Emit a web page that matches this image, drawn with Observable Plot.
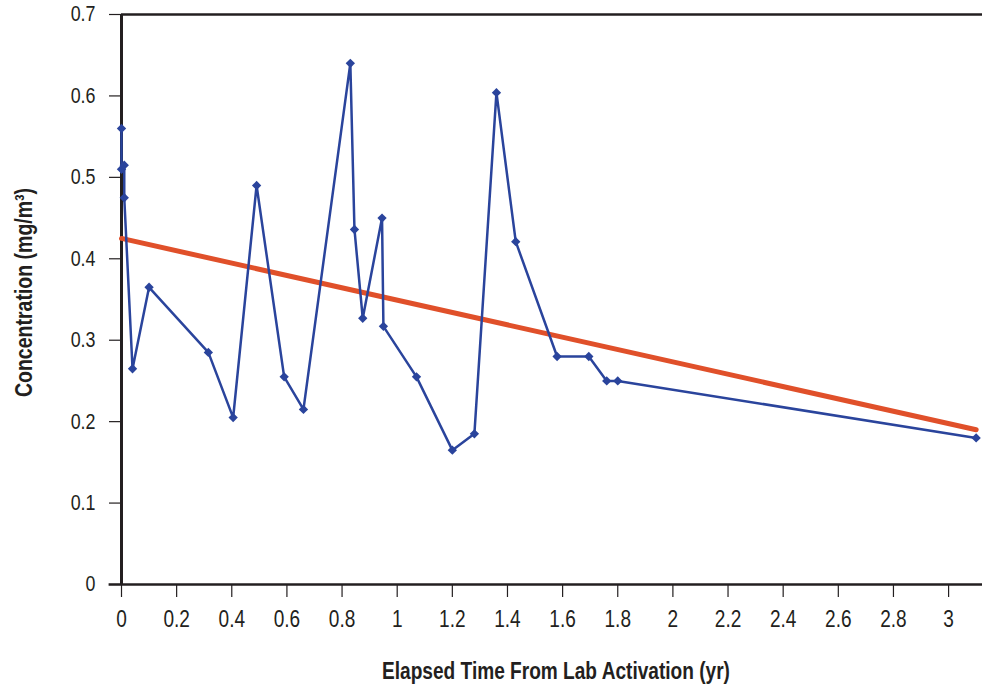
<!DOCTYPE html>
<html>
<head>
<meta charset="utf-8">
<script src="https://cdn.jsdelivr.net/npm/d3@7"></script>
<script src="https://cdn.jsdelivr.net/npm/@observablehq/plot@0.6"></script>
<style>
  html, body { margin: 0; padding: 0; background: #fff; }
  svg { display: block; }
</style>
</head>
<body>
<div id="chart"></div>
<script>
// Data
const elapsedYears = [0, 0, 0.01, 0.01, 0.04, 0.10, 0.315, 0.405, 0.49, 0.59, 0.66, 0.83, 0.845, 0.875, 0.945, 0.95, 1.07, 1.20, 1.28, 1.36, 1.43, 1.58, 1.695, 1.76, 1.80, 3.10];
const concentration = [0.56, 0.51, 0.515, 0.475, 0.265, 0.365, 0.285, 0.205, 0.49, 0.255, 0.215, 0.64, 0.436, 0.327, 0.45, 0.317, 0.255, 0.165, 0.185, 0.604, 0.421, 0.28, 0.28, 0.25, 0.25, 0.18];
const trendX = [0, 3.10];
const trendY = [0.425, 0.19];
const xTicks = [0, 0.2, 0.4, 0.6, 0.8, 1, 1.2, 1.4, 1.6, 1.8, 2, 2.2, 2.4, 2.6, 2.8, 3];
const yTicks = [0, 0.1, 0.2, 0.3, 0.4, 0.5, 0.6, 0.7];
const xTitle = "Elapsed Time From Lab Activation (yr)";
const yTitle = "Concentration (mg/m³)";

const points = elapsedYears.map((x, i) => ({x, y: concentration[i]}));
const trend = trendX.map((x, i) => ({x, y: trendY[i]}));

const blue = "#2a449c";
const orange = "#e0502a";
const axisColor = "#231f20";
const font = "'Liberation Sans', Arial, sans-serif";

const chart = Plot.plot({
  width: 982,
  height: 687,
  marginLeft: 121,
  marginRight: 0,
  marginTop: 14,
  marginBottom: 103,
  style: {fontFamily: font, fontSize: "21px", color: axisColor, background: "#fff"},
  x: {domain: [0, 3.123], axis: null},
  y: {domain: [0, 0.7], axis: null},
  marks: [
    Plot.axisX({ticks: xTicks, tickSize: 13, tickPadding: 13, fontSize: 23, stroke: axisColor, strokeWidth: 1.2, label: null, tickFormat: d3.format("~g")}),
    Plot.axisY({ticks: yTicks, tickSize: 12, tickPadding: 14, fontSize: 21.5, stroke: axisColor, strokeWidth: 1.2, label: null, tickFormat: d3.format("~g")}),
    Plot.ruleY([0], {stroke: axisColor, strokeWidth: 2.5, x1: -0.045, x2: 3.123}),
    Plot.ruleY([0.7], {stroke: axisColor, strokeWidth: 2.5}),
    Plot.ruleX([0], {stroke: axisColor, strokeWidth: 3}),
    Plot.line(trend, {x: "x", y: "y", stroke: orange, strokeWidth: 5}),
    Plot.line(points, {x: "x", y: "y", stroke: blue, strokeWidth: 2.5}),
    Plot.dot(points, {x: "x", y: "y", symbol: "diamond2", r: 4.2, fill: blue, stroke: "none"}),
    Plot.text([xTitle], {frameAnchor: "bottom", lineAnchor: "bottom", dy: 94, dx: 4, text: d => d, fontSize: 23, fontWeight: "bold", fill: axisColor}),
    Plot.text([yTitle], {frameAnchor: "left", textAnchor: "middle", lineAnchor: "bottom", dx: -90, dy: -7, rotate: -90, text: d => d, fontSize: 23.5, fontWeight: "bold", fill: axisColor})
  ]
});
document.getElementById("chart").appendChild(chart);
// Condense the text horizontally like the reference's narrow typeface
chart.querySelectorAll("text").forEach(t => {
  const w = t.getComputedTextLength();
  if (w > 0) {
    t.setAttribute("textLength", (w * 0.83).toFixed(1));
    t.setAttribute("lengthAdjust", "spacingAndGlyphs");
  }
});
</script>
</body>
</html>
